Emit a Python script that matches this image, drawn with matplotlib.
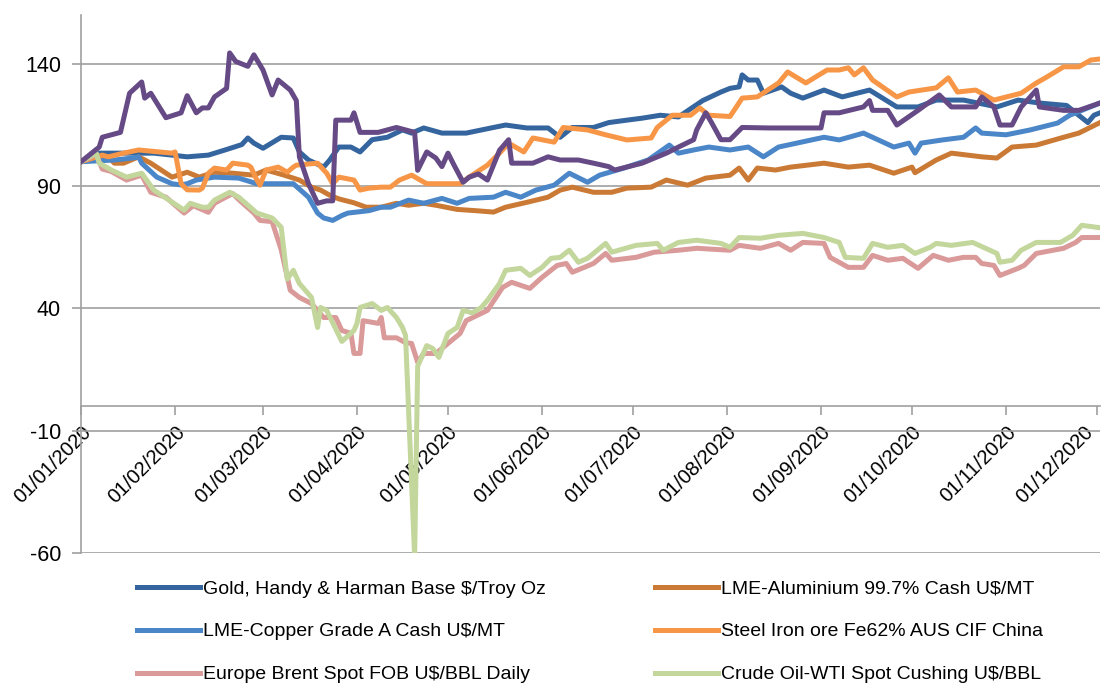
import numpy as np
import pandas as pd
import matplotlib
matplotlib.use('Agg')
import matplotlib.pyplot as plt
import matplotlib.dates as mdates
import matplotlib.transforms as mtransforms

plt.rcParams['font.family'] = ['Liberation Sans', 'DejaVu Sans']
plt.rcParams['axes.unicode_minus'] = False

# Indices base 100 = 01/01/2020 ; jours comptes depuis le 01/01/2020
gold_days = [0, 6, 24, 35, 42, 48, 53, 55, 57, 60, 66, 70, 72, 75, 80, 82, 85, 89, 92, 96,
             101, 106, 109, 113, 119, 127, 136, 140, 147, 154, 158, 162, 169, 174, 180, 185, 191, 197, 205, 211,
             214, 217, 218, 220, 223, 225, 231, 234, 238, 245, 251, 260, 269, 276, 282, 291, 302, 309, 316, 325,
             328, 332, 334, 336]
gold_vals = [100, 103.5, 103.5, 102, 102.7, 105, 107, 109.7, 107.6, 105.5, 110, 109.7, 104, 100.7, 97.8, 100.7, 106, 106, 104, 109,
             110, 113, 111.7, 113.8, 111.7, 111.7, 114, 115, 113.8, 113.8, 110, 114, 114, 116, 117, 117.8, 119, 118.3, 125, 128.5,
             130, 130.6, 135.5, 133.4, 133.4, 128, 130.6, 128, 126, 129.3, 126.5, 129.3, 122.4, 122.4, 125.2, 125.2, 122.4, 125.2, 124, 123,
             120, 116, 119, 120]

alu_days = [0, 9, 11, 14, 19, 23, 30, 35, 39, 44, 50, 57, 61, 67, 72, 76, 79, 82, 85, 90,
            94, 99, 104, 108, 113, 117, 124, 130, 136, 140, 147, 154, 158, 162, 169, 175, 180, 188, 193, 200,
            206, 214, 217, 220, 223, 229, 234, 245, 253, 260, 268, 274, 275, 282, 287, 297, 302, 307, 315, 324,
            329, 336]
alu_vals = [100, 102, 99.4, 99.4, 102, 99.4, 93.7, 95.7, 93.7, 95.7, 95.3, 94.5, 96.6, 94.5, 92.5, 89.6, 88.4, 86.3, 84.8, 83.2,
            81.4, 81.4, 83, 82.2, 83, 82.2, 80.5, 80, 79.4, 81.4, 83.4, 85.5, 88.4, 89.6, 87.5, 87.5, 89.2, 89.6, 92.5, 90.4,
            93.3, 94.5, 97.4, 92.5, 97.4, 96.6, 97.8, 99.4, 97.8, 98.6, 95.3, 97.8, 95.5, 100.7, 103.5, 102, 101.5, 106, 106.8, 110,
            111.7, 116]

copper_days = [0, 11, 17, 19, 20, 25, 30, 33, 35, 38, 44, 52, 58, 70, 75, 78, 80, 83, 86, 88,
               95, 99, 102, 108, 113, 119, 124, 128, 136, 140, 145, 150, 156, 161, 167, 171, 179, 187, 194, 197,
               202, 207, 214, 220, 225, 230, 236, 245, 250, 258, 268, 273, 275, 277, 284, 291, 295, 297, 305, 313,
               322, 326, 330, 336]
copper_vals = [100, 100.7, 101.5, 102, 99.4, 93.7, 91, 90.5, 91, 92.5, 93.7, 93.3, 91, 91, 85.5, 79, 77, 76, 78, 79,
               80, 81.4, 81.4, 84.3, 83, 85, 83, 85, 85.5, 87.5, 85.5, 88.4, 90.4, 95.3, 91.6, 94.5, 97.4, 100.7, 106.8, 103.5,
               104.8, 106, 104.8, 106, 102, 106, 107.6, 110, 108.9, 111.7, 106, 107.6, 103.5, 107.6, 108.9, 110, 113.8, 111.7, 111, 113,
               115.8, 119, 121, 124]

steel_days = [0, 7, 9, 14, 19, 30, 31, 33, 35, 39, 40, 42, 44, 48, 50, 55, 56, 58, 59, 61,
              65, 68, 70, 71, 78, 81, 83, 85, 90, 92, 95, 99, 102, 105, 109, 114, 125, 128, 134, 138,
              141, 146, 149, 156, 159, 167, 173, 180, 188, 190, 195, 201, 204, 207, 214, 218, 223, 230, 233, 239,
              246, 250, 253, 255, 258, 261, 269, 273, 282, 286, 289, 295, 301, 310, 315, 318, 324, 329, 333, 336]
steel_vals = [100, 102.7, 102, 103.5, 104.8, 103.5, 104, 91, 88.5, 88.4, 89.2, 95.3, 97.4, 96.6, 99.4, 98.6, 97.8, 92.5, 90.4, 96.6,
              97.8, 95.7, 97.8, 98.6, 99.4, 95.3, 91, 93.7, 92.5, 88.4, 89.2, 89.6, 89.6, 92.5, 94.5, 91, 91, 93.7, 98.6, 103.5,
              107.6, 104, 109.7, 108, 114, 113, 111, 108.9, 109.7, 114, 119, 119, 122, 119, 118.5, 126, 126.5, 132.2, 136.7, 132.2,
              137.5, 137.5, 138.4, 135.5, 138.4, 133.4, 126.5, 128.5, 130.2, 134.3, 128.5, 129.3, 125.2, 128, 132.2, 134.3, 138.8, 138.8, 141.6, 142]

brent_days = [0, 5, 7, 10, 15, 20, 23, 28, 34, 37, 42, 44, 50, 52, 57, 59, 63, 66, 69, 72,
              76, 80, 84, 86, 89, 90, 92, 93, 98, 99, 100, 104, 107, 109, 111, 113, 117, 121, 125, 127,
              134, 139, 142, 148, 152, 157, 160, 162, 169, 173, 175, 183, 189, 197, 203, 214, 217, 224, 230, 234,
              238, 245, 247, 253, 258, 261, 266, 271, 276, 281, 286, 291, 295, 297, 301, 303, 309, 311, 315, 324,
              328, 330, 336]
brent_vals = [100, 103, 97, 96, 92.5, 94.5, 87.5, 85.5, 79, 82, 79.3, 83, 87, 84.5, 79, 76, 75.5, 64, 47.4, 44.5,
              42, 36.3, 36.3, 31, 29.8, 21.6, 21.6, 35, 33.9, 36.3, 28, 28, 26, 25.7, 18, 21.6, 21.6, 25.7, 29.8, 35,
              39.2, 48.6, 50.7, 48.2, 52.7, 57.6, 58.4, 54.8, 58.4, 62.5, 59.7, 60.9, 63, 63.8, 64.6, 63.8, 65.8, 64.6, 66.6, 63.8,
              67, 66.6, 60.9, 56.8, 56.8, 61.7, 59.7, 60.5, 56.4, 61.7, 59.7, 60.9, 60.9, 58.4, 57.6, 53.5, 56.4, 57.6, 62.5, 64.6,
              67, 69, 69]

wti_days = [0, 5, 6, 10, 15, 20, 24, 29, 34, 36, 40, 42, 44, 49, 52, 58, 63, 66, 68, 70,
            72, 76, 78, 79, 81, 86, 90, 91, 92, 96, 99, 101, 104, 106, 107, 110, 111, 114, 116, 118,
            121, 124, 126, 129, 132, 134, 138, 140, 145, 148, 152, 155, 158, 161, 164, 167, 169, 173, 175, 183,
            190, 192, 197, 203, 211, 214, 217, 224, 230, 238, 245, 250, 252, 258, 261, 266, 271, 275, 280, 282,
            287, 294, 302, 303, 307, 310, 315, 323, 327, 330, 336]
wti_vals = [100, 103.5, 99.4, 96.6, 93.7, 95.3, 88.4, 84.3, 80.2, 83, 81.4, 81.4, 84.3, 87.5, 85.5, 79, 77, 73.2, 52, 55.6,
            50.2, 44.5, 32.2, 40.4, 39.2, 26.5, 31, 33.9, 40.4, 42, 39.2, 40.4, 36.3, 32.2, 29, -61.5, 16.4, 24.8, 23.6, 20,
            29.8, 32.2, 39.2, 38.2, 40.4, 43.3, 50.2, 55.6, 56.4, 53.5, 56.8, 60.5, 60.9, 63.8, 58.9, 60.5, 62.5, 66.6, 63, 65.8,
            66.6, 63.8, 67, 67.9, 66.6, 65, 69, 68.7, 69.9, 70.7, 69, 67, 60.9, 60.5, 66.6, 65, 65.8, 62.5, 65, 66.6,
            65.8, 67, 62.5, 58.9, 59.7, 63.8, 67, 67, 69.9, 74, 73]

# serie violette (sans entree visible dans la legende)
purple_days = [0, 6, 7, 13, 16, 20, 21, 23, 28, 33, 35, 38, 40, 42, 44, 48, 49, 51, 55, 57,
               60, 63, 65, 69, 71, 72, 75, 78, 81, 83, 84, 89, 90, 92, 98, 104, 110, 111, 114, 117,
               119, 121, 123, 126, 128, 131, 134, 138, 141, 142, 149, 154, 158, 164, 169, 174, 176, 185, 193, 197,
               202, 203, 206, 208, 211, 214, 218, 227, 244, 245, 250, 258, 260, 261, 266, 269, 276, 283, 287, 295,
               297, 301, 303, 307, 310, 313, 315, 316, 324, 329, 336]
purple_vals = [100, 106, 110, 112, 128, 132.6, 126, 128, 118, 120, 127, 120, 122, 122, 126.5, 130, 144.5, 141, 139, 143.7,
               137.5, 127.3, 133.4, 129.3, 125, 102, 91, 83, 84, 84, 117, 117, 120, 112, 112, 114, 112, 96.5, 104, 101.5,
               98, 103.5, 98.6, 91.6, 93.7, 95, 92.5, 104.7, 109, 99.4, 99.4, 102, 100.7, 100.7, 99.4, 98, 96.6, 99.4, 103.5, 106,
               109, 113, 120, 115.8, 109, 109, 114, 113.8, 113.8, 120, 120, 122.4, 125, 121, 121, 115, 121, 127.3, 122.4, 122.4,
               126.5, 122.4, 115, 115, 122.4, 126.5, 129.3, 122.4, 121, 121, 124]

labels = ['Gold, Handy & Harman Base $/Troy Oz', 'LME-Aluminium 99.7% Cash U$/MT',
          'LME-Copper Grade A Cash U$/MT', 'Steel Iron ore Fe62% AUS CIF China',
          'Europe Brent Spot FOB U$/BBL Daily', 'Crude Oil-WTI Spot Cushing U$/BBL']

debut = pd.Timestamp('2020-01-01')


def fechas(dias):
    return debut + pd.to_timedelta(dias, unit='D')


fig = plt.figure(figsize=(11.01, 6.84), dpi=100)
ax = fig.add_axes([0.0736, 0.1915, 0.9255, 0.7866])

series = [
    (gold_days, gold_vals, '#35659E', labels[0]),
    (alu_days, alu_vals, '#CB7A35', labels[1]),
    (copper_days, copper_vals, '#4A86C8', labels[2]),
    (steel_days, steel_vals, '#F79646', labels[3]),
    (brent_days, brent_vals, '#D99A99', labels[4]),
    (wti_days, wti_vals, '#C3D69B', labels[5]),
    (purple_days, purple_vals, '#654A86', None),
]
handles = {}
for d, v, c, lab in series:
    h, = ax.plot(fechas(d), v, color=c, lw=3.6, zorder=3, solid_joinstyle='round')
    if lab:
        handles[lab] = h

ax.set_ylim(-60, 160)
ax.set_yticks([-60, -10, 40, 90, 140])
ax.set_xlim(debut, fechas(336))
ax.xaxis.set_major_locator(mdates.MonthLocator())
ax.xaxis.set_major_formatter(mdates.DateFormatter('%d/%m/%Y'))

ax.grid(axis='y', color='#a0a0a0', lw=1.2)
ax.set_axisbelow(True)
for s in ['top', 'right']:
    ax.spines[s].set_visible(False)
ax.spines['bottom'].set_position(('data', 0))
ax.spines['bottom'].set_color('#a0a0a0')
ax.spines['bottom'].set_linewidth(1.2)
ax.spines['left'].set_color('#a0a0a0')
ax.spines['left'].set_linewidth(1.2)

ax.tick_params(axis='y', length=6.5, width=1.2, color='#a0a0a0', pad=8, labelsize=15.5)
ax.tick_params(axis='x', length=6.5, width=1.2, color='#a0a0a0', pad=5, labelsize=14.5)
fig.canvas.draw()
xlbls = ax.get_xticklabels()
for lbl in xlbls:
    lbl.set_rotation(45)
    lbl.set_ha('right')
    lbl.set_va('top')
    lbl.set_rotation_mode('anchor')
# la derniere etiquette touche le bord droit : petit decalage a gauche
xlbls[-1].set_transform(xlbls[-1].get_transform() +
                        mtransforms.ScaledTranslation(-10 / 72, 0, fig.dpi_scale_trans))

orden = [labels[0], labels[2], labels[4], labels[1], labels[3], labels[5]]
fig.legend([handles[k] for k in orden], orden, ncol=2, loc='upper left',
           bbox_to_anchor=(137 / 1101, 1 - 580 / 684), frameon=False, fontsize=14,
           handlelength=3.25, handletextpad=0.15, columnspacing=5.6, labelspacing=1.3,
           borderpad=0, borderaxespad=0)

fig.savefig('out.png', dpi=100)
